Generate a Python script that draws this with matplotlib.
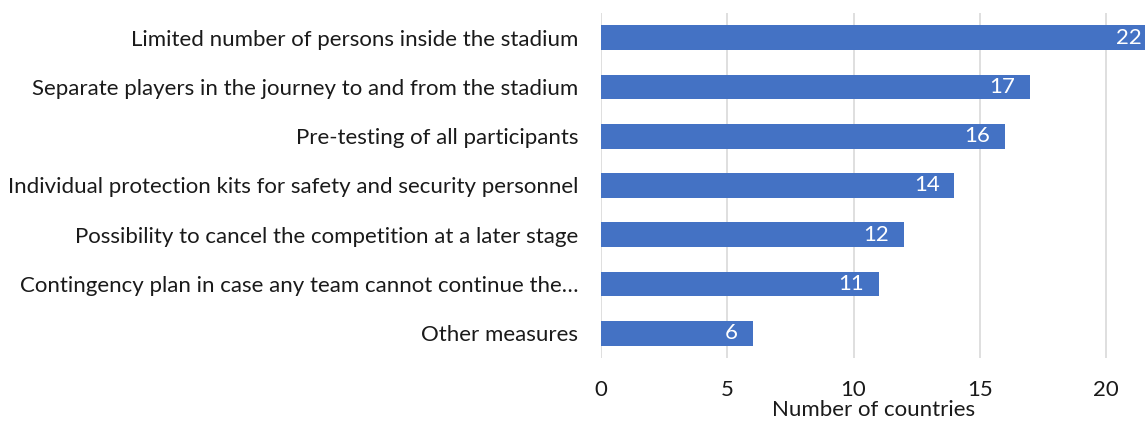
import matplotlib
matplotlib.use("Agg")
import matplotlib.pyplot as plt

measures = [
    "Limited number of persons inside the stadium",
    "Separate players in the journey to and from the stadium",
    "Pre-testing of all participants",
    "Individual protection kits for safety and security personnel",
    "Possibility to cancel the competition at a later stage",
    "Contingency plan in case any team cannot continue the\u2026",
    "Other measures",
]
countries = [22, 17, 16, 14, 12, 11, 6]
x_ticks = [0, 5, 10, 15, 20]

BAR_COLOR = "#4472C4"
GRID_COLOR = "#D9D9D9"
TEXT_COLOR = "#1a1a1a"

plt.rcParams["font.family"] = ["Lato", "DejaVu Sans"]

fig = plt.figure(figsize=(11.45, 4.21), dpi=100)
ax = fig.add_axes([0.525, 0.150, 0.475, 0.819])

ypos = list(range(len(measures)))
bars = ax.barh(ypos, countries, height=0.5, color=BAR_COLOR, zorder=2)

ax.set_xlim(0, 21.55)
ax.set_ylim(len(measures) - 0.5, -0.5)
ax.set_yticks(ypos)
ax.set_yticklabels(measures, fontsize=16, color=TEXT_COLOR)
ax.set_xticks(x_ticks)
ax.set_xticklabels([str(t) for t in x_ticks], fontsize=16, color=TEXT_COLOR)
ax.tick_params(axis="y", length=0, pad=16.5)
ax.tick_params(axis="x", length=0, pad=16)

ax.grid(axis="x", color=GRID_COLOR, linewidth=1.2, zorder=0)
for side in ["top", "right", "bottom", "left"]:
    ax.spines[side].set_visible(False)

# value labels sit just inside the end of each bar
for rect, val in zip(bars, countries):
    ax.annotate(str(val),
                xy=(rect.get_width(), rect.get_y() + rect.get_height() / 2),
                xytext=(-15, 0), textcoords="offset pixels",
                ha="right", va="center", fontsize=16, color="white",
                annotation_clip=False)

ax.set_xlabel("Number of countries", fontsize=16, color=TEXT_COLOR, labelpad=0)

fig.savefig("out.png", dpi=100)
plt.close(fig)
